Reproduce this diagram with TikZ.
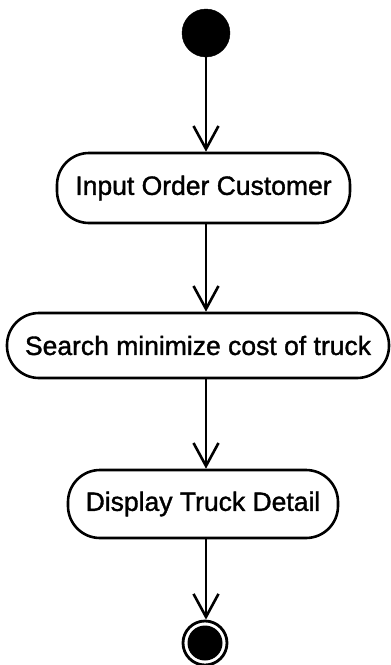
\documentclass[tikz,border=0pt]{standalone}
\usepackage{fontspec}
\setmainfont{Liberation Sans}
\newfontfamily\lblfont[UprightFeatures={FakeBold=1.3}]{Liberation Sans}
\usetikzlibrary{arrows.meta}
\begin{document}
\begin{tikzpicture}[x=1pt,y=-1pt,
  action/.style={draw=black, line width=2.6pt, rounded corners=32pt, inner sep=0pt,
    font=\lblfont\fontsize{26.5}{30}\selectfont},
  flow/.style={draw=black, line width=2.6pt, -{Straight Barb[length=23pt,width=25pt,line width=2.6pt]}},
  startnode/.style={circle, fill=black, draw=black, minimum size=48pt, inner sep=0pt},
  endouter/.style={circle, draw=black, line width=2.8pt, fill=white, minimum size=44pt, inner sep=0pt},
  endinner/.style={circle, fill=black, minimum size=35pt, inner sep=0pt}]
\useasboundingbox (0,0) rectangle (391,665);
\node[startnode] (start) at (206,33) {};
\node[action, minimum width=293pt, minimum height=70pt] (n1) at (203.5,188) {Input Order Customer};
\node[action, minimum width=382pt, minimum height=65pt] (n2) at (198,345.5) {Search minimize cost of truck};
\node[action, minimum width=270pt, minimum height=68pt] (n3) at (203,504) {Display Truck Detail};
\node[endouter] (stop) at (205,643) {};
\node[endinner] (stopin) at (stop.center) {};
\draw[flow] (start.south) -- (start.south |- n1.north);
\draw[flow] (start.south |- n1.south) -- (start.south |- n2.north);
\draw[flow] (start.south |- n2.south) -- (start.south |- n3.north);
\draw[flow] (start.south |- n3.south) -- (stop.north -| start.south);
\end{tikzpicture}
\end{document}
